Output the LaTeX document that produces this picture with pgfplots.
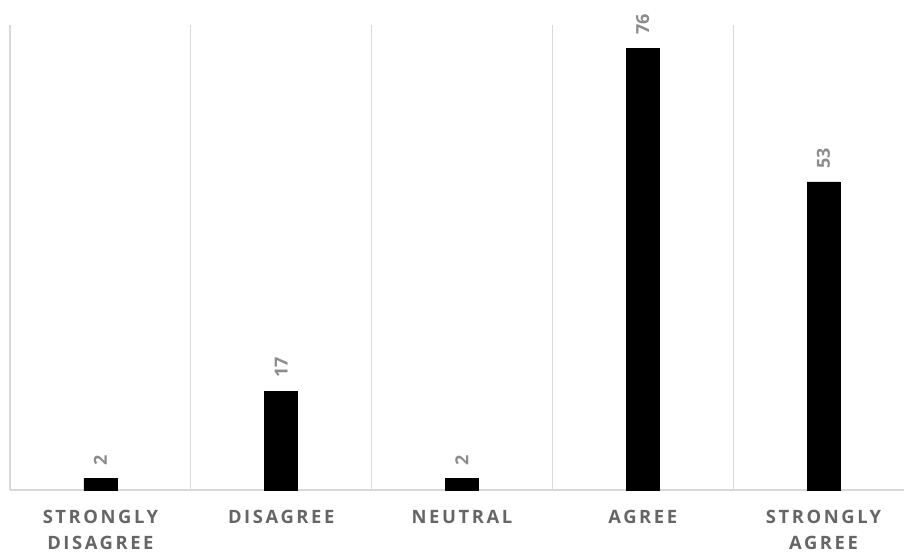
\documentclass[border=0pt]{standalone}
\usepackage{pgfplots}
\pgfplotsset{compat=1.18}
\usepackage{fontspec}
\setmainfont{Open Sans}
\newfontfamily\labelfont[LetterSpace=14]{Open Sans}
\definecolor{gridgray}{HTML}{D9D9D9}
\definecolor{ticklab}{HTML}{666666}
\definecolor{datalab}{HTML}{8C8C8C}
\begin{document}
\begin{tikzpicture}
\begin{axis}[
  at={(0,0)}, anchor=south west,
  scale only axis,
  width=447pt, height=232.5pt,
  xmin=-0.5, xmax=4.445,
  ymin=0, ymax=80,
  axis x line*=bottom,
  axis y line=none,
  x axis line style={gridgray, line width=0.6pt, -},
  xtick={0,1,2,3,4},
  xticklabels={STRONGLY DISAGREE, DISAGREE, NEUTRAL, AGREE, STRONGLY AGREE},
  major tick length=0pt,
  minor xtick={-0.5,0.5,1.5,2.5,3.5},
  minor tick length=0pt,
  xminorgrids=true,
  minor grid style={gridgray, line width=0.6pt},
  xticklabel style={font=\labelfont\bfseries\fontsize{9.2}{13}\selectfont, text=ticklab, align=center, text width=72pt, anchor=north, yshift=-6.5pt},
  ybar,
  bar width=16.5pt,
  /pgf/number format/assume math mode=true,
  nodes near coords,
  every node near coord/.append style={font=\bfseries\fontsize{9}{10}\selectfont, text=datalab, rotate=90, anchor=west, inner xsep=6.5pt, inner ysep=0pt},
  clip=false,
]
\addplot[fill=black, draw=black, line width=0.3pt] coordinates {(0,2) (1,17) (2,2) (3,76) (4,53)};
\end{axis}
\pgfresetboundingbox
\useasboundingbox (-5pt,-31.5pt) rectangle (447pt,245pt);
\end{tikzpicture}
\end{document}
